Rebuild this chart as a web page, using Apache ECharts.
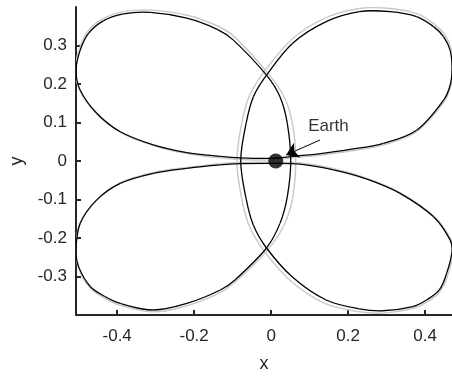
<!DOCTYPE html>
<html>
<head>
<meta charset="utf-8">
<script src="https://cdn.jsdelivr.net/npm/echarts@6/dist/echarts.min.js"></script>
<style>
  html, body { margin: 0; padding: 0; background: #fff; }
  #chart { width: 452px; height: 379px; }
</style>
</head>
<body>
<div id="chart"></div>
<script>
// tick positions
const xTicks = [-0.4, -0.2, 0, 0.2, 0.4];
const yTicks = [-0.3, -0.2, -0.1, 0, 0.1, 0.2, 0.3];

// black orbit, in path order (closed loop)
const blackOrbit = [
  [0.000, 0.007], [-0.080, 0.008], [-0.132, 0.012], [-0.219, 0.022], [-0.306, 0.042],
  [-0.392, 0.076], [-0.453, 0.124], [-0.496, 0.184], [-0.507, 0.236], [-0.496, 0.288],
  [-0.474, 0.332], [-0.436, 0.364], [-0.384, 0.382], [-0.314, 0.386], [-0.219, 0.371],
  [-0.140, 0.342], [-0.098, 0.314], [-0.012, 0.223], [0.023, 0.167], [0.042, 0.098],
  [0.051, 0.000], [0.042, -0.093], [0.023, -0.162], [-0.012, -0.226], [-0.094, -0.309],
  [-0.132, -0.335], [-0.219, -0.370], [-0.306, -0.387], [-0.392, -0.370], [-0.432, -0.352],
  [-0.470, -0.326], [-0.500, -0.275], [-0.507, -0.231], [-0.496, -0.162], [-0.453, -0.101],
  [-0.392, -0.058], [-0.306, -0.032], [-0.219, -0.019], [-0.132, -0.010], [-0.080, -0.007],
  [0.000, -0.006], [0.075, -0.008], [0.162, -0.023], [0.249, -0.047], [0.335, -0.084],
  [0.422, -0.145], [0.465, -0.205], [0.470, -0.235], [0.456, -0.292], [0.437, -0.335],
  [0.404, -0.361], [0.368, -0.378], [0.290, -0.389], [0.229, -0.384], [0.143, -0.361],
  [0.056, -0.302], [-0.012, -0.226], [-0.046, -0.167], [-0.065, -0.098], [-0.079, 0.000],
  [-0.065, 0.098], [-0.046, 0.167], [-0.012, 0.223], [0.056, 0.306], [0.143, 0.362],
  [0.229, 0.388], [0.309, 0.388], [0.378, 0.375], [0.422, 0.349], [0.448, 0.323],
  [0.465, 0.288], [0.470, 0.245], [0.466, 0.200], [0.448, 0.158], [0.378, 0.080],
  [0.292, 0.046], [0.205, 0.030], [0.119, 0.018], [0.075, 0.014], [0.000, 0.007]
];

// grey orbit (slightly wider)
const greyOrbit = [
  [0.000, 0.003], [-0.080, 0.004], [-0.132, 0.008], [-0.219, 0.019], [-0.306, 0.040],
  [-0.392, 0.075], [-0.455, 0.124], [-0.498, 0.186], [-0.509, 0.238], [-0.498, 0.292],
  [-0.476, 0.337], [-0.438, 0.369], [-0.384, 0.388], [-0.310, 0.392], [-0.215, 0.378],
  [-0.138, 0.350], [-0.098, 0.325], [-0.015, 0.236], [0.032, 0.170], [0.055, 0.100],
  [0.064, 0.000], [0.055, -0.100], [0.032, -0.170], [-0.015, -0.238], [-0.098, -0.318],
  [-0.135, -0.343], [-0.219, -0.376], [-0.306, -0.392], [-0.392, -0.375], [-0.433, -0.356],
  [-0.471, -0.329], [-0.501, -0.277], [-0.508, -0.231], [-0.497, -0.162], [-0.454, -0.101],
  [-0.392, -0.057], [-0.306, -0.030], [-0.219, -0.017], [-0.132, -0.007], [-0.080, -0.004],
  [0.000, -0.003], [0.075, -0.005], [0.162, -0.020], [0.249, -0.045], [0.335, -0.082],
  [0.424, -0.144], [0.468, -0.205], [0.473, -0.237], [0.459, -0.296], [0.439, -0.339],
  [0.406, -0.366], [0.368, -0.383], [0.290, -0.395], [0.225, -0.391], [0.138, -0.369],
  [0.055, -0.315], [-0.015, -0.238], [-0.056, -0.170], [-0.076, -0.100], [-0.089, 0.000],
  [-0.076, 0.100], [-0.056, 0.170], [-0.015, 0.236], [0.055, 0.317], [0.140, 0.371],
  [0.229, 0.396], [0.309, 0.396], [0.380, 0.382], [0.425, 0.355], [0.451, 0.328],
  [0.468, 0.291], [0.473, 0.247], [0.468, 0.200], [0.450, 0.155], [0.378, 0.076],
  [0.292, 0.042], [0.205, 0.026], [0.119, 0.014], [0.075, 0.010], [0.000, 0.003]
];

// Earth and its annotation
const earth = [0.012, 0];
const labelPos = [0.149, 0.089];
const arrowTail = [0.127, 0.0545];
const arrowTip = [0.039, 0.0156];

const axisColor = "#262626";
const font = "Liberation Sans, Arial, sans-serif";

// each data point draws a smooth bezier piece to the next one (closed loop)
function orbitPiece(orbit, color, width) {
  const n = orbit.length - 1;
  return function (params, api) {
    const i = params.dataIndex;
    if (i >= n) return null;
    const P = (k) => api.coord(orbit[((k % n) + n) % n]);
    const p0 = P(i - 1), p1 = P(i), p2 = P(i + 1), p3 = P(i + 2);
    const d = Math.hypot(p2[0] - p1[0], p2[1] - p1[1]) / 3;
    const unit = (a, b) => {
      const l = Math.hypot(b[0] - a[0], b[1] - a[1]) || 1;
      return [(b[0] - a[0]) / l, (b[1] - a[1]) / l];
    };
    const t1 = unit(p0, p2), t2 = unit(p1, p3);
    return {
      type: "bezierCurve",
      shape: {
        x1: p1[0], y1: p1[1], x2: p2[0], y2: p2[1],
        cpx1: p1[0] + t1[0] * d, cpy1: p1[1] + t1[1] * d,
        cpx2: p2[0] - t2[0] * d, cpy2: p2[1] - t2[1] * d,
      },
      style: { stroke: color, lineWidth: width, fill: null },
    };
  };
}

let myChart = echarts.init(document.getElementById("chart"));

myChart.setOption({
  animation: false,
  grid: {
    left: 76,
    right: 0,
    top: 7,
    bottom: 64,
    outerBoundsMode: "none",
  },
  xAxis: {
    type: "value",
    min: -0.507,
    max: 0.47,
    name: "x",
    nameLocation: "middle",
    nameGap: 40,
    nameTextStyle: { color: axisColor, fontSize: 18, fontFamily: font },
    axisLine: { show: true, onZero: false, lineStyle: { color: axisColor, width: 2 } },
    axisTick: { show: true, inside: true, length: 5, customValues: xTicks, lineStyle: { color: axisColor, width: 2 } },
    axisLabel: { customValues: xTicks, margin: 13, color: axisColor, fontSize: 17, fontFamily: font },
    splitLine: { show: false },
  },
  yAxis: {
    type: "value",
    min: -0.4,
    max: 0.4,
    name: "y",
    nameLocation: "middle",
    nameGap: 50,
    nameTextStyle: { color: axisColor, fontSize: 18, fontFamily: font },
    axisLine: { show: true, onZero: false, lineStyle: { color: axisColor, width: 2 } },
    axisTick: { show: true, inside: true, length: 5, customValues: yTicks, lineStyle: { color: axisColor, width: 2 } },
    axisLabel: { customValues: yTicks, margin: 9, color: axisColor, fontSize: 17, fontFamily: font },
    splitLine: { show: false },
  },
  series: [
    {
      // grey orbit underneath
      type: "custom",
      data: greyOrbit,
      renderItem: orbitPiece(greyOrbit, "#c8c8c8", 1.4),
      clip: true,
      silent: true,
    },
    {
      type: "custom",
      data: blackOrbit,
      renderItem: orbitPiece(blackOrbit, "#000", 1.3),
      clip: true,
      silent: true,
    },
    {
      // Earth marker + arrow
      type: "scatter",
      data: [earth],
      symbolSize: 15,
      itemStyle: { color: "#000" },
      markLine: {
        silent: true,
        symbol: ["none", "arrow"],
        symbolSize: 12,
        label: { show: false },
        lineStyle: { color: "#000", width: 1, type: "solid" },
        data: [[{ coord: arrowTail }, { coord: arrowTip }]],
      },
    },
    {
      // "Earth" text
      type: "scatter",
      data: [labelPos],
      symbolSize: 0,
      label: {
        show: true,
        position: "inside",
        formatter: "Earth",
        color: "#000",
        fontSize: 17,
        fontFamily: font,
      },
    },
  ],
});
</script>
</body>
</html>
